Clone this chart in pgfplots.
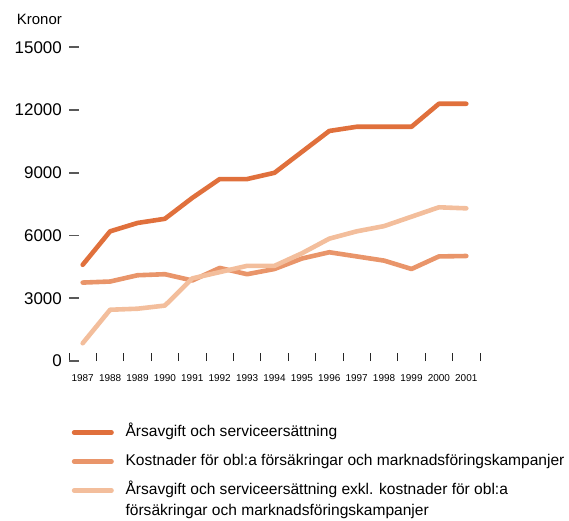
\documentclass[border=0pt]{standalone}
\usepackage{pgfplots}
\pgfplotsset{compat=1.18}
\usepackage{fontspec}
\setmainfont{Liberation Sans}
\definecolor{c1}{HTML}{E0703C}
\definecolor{c2}{HTML}{E9956A}
\definecolor{c3}{HTML}{F3BE9C}
\begin{document}
\begin{tikzpicture}
\useasboundingbox (0,0) rectangle (569bp,521bp);
\node[anchor=east, inner sep=0pt, font=\fontsize{15}{18}\selectfont] at (62bp,501.5bp) {Kronor};
\begin{axis}[
  at={(69bp,160bp)}, anchor=south west, scale only axis,
  width=411bp, height=313.7bp,
  xmin=1986.5, xmax=2001.5, ymin=0, ymax=15000, clip=false,
  axis line style={draw=none},
  scaled ticks=false,
  xtick={1987,...,2001},
  minor xtick={1986.5,1987.5,...,2001.5},
  ytick={0,3000,...,15000},
  xtick pos=bottom, ytick pos=left, tick align=inside,
  major tick length=10bp, minor tick length=8bp,
  every major x tick/.append style={draw=none},
  every minor x tick/.append style={black!85, line width=0.8bp},
  ytick style={black!65, line width=1.6bp},
  /pgf/number format/1000 sep={},
  /pgf/number format/assume math mode=true,
  yticklabel style={font=\fontsize{17}{20}\selectfont, inner sep=0pt, xshift=-7bp,
    /pgf/number format/fixed, /pgf/number format/precision=0},
  xticklabel style={font=\fontsize{10}{12}\selectfont, inner sep=0pt, yshift=-13bp},
  legend style={at={(0.0068,-0.204)}, anchor=north west, draw=none, fill=none,
    inner sep=0pt, outer sep=0pt, row sep=13bp, column sep=11.8bp,
    cells={anchor=base west},
    nodes={inner sep=0pt, text height=12bp, text depth=4bp, font=\fontsize{15.6}{21}\selectfont}},
  legend image code/.code={\draw[#1, line cap=round] (0bp,4.5bp) -- (37.4bp,4.5bp);},
  every axis plot/.append style={line width=4.6bp, line join=round, line cap=round},
]
\addplot[c1] coordinates {
(1987,4600) (1988,6200) (1989,6600) (1990,6800) (1991,7800) (1992,8700) (1993,8700)
(1994,9000) (1995,10000) (1996,11000) (1997,11200) (1998,11200) (1999,11200) (2000,12300) (2001,12300)};
\addlegendentry{Årsavgift och serviceersättning}
\addplot[c2] coordinates {
(1987,3750) (1988,3800) (1989,4100) (1990,4150) (1991,3850) (1992,4450) (1993,4150)
(1994,4400) (1995,4900) (1996,5200) (1997,5000) (1998,4800) (1999,4400) (2000,5000) (2001,5020)};
\addlegendentry{Kostnader för obl:a försäkringar och marknadsföringskampanjer}
\addplot[c3] coordinates {
(1987,850) (1988,2450) (1989,2500) (1990,2650) (1991,3950) (1992,4250) (1993,4550)
(1994,4550) (1995,5150) (1996,5850) (1997,6200) (1998,6450) (1999,6900) (2000,7350) (2001,7300)};
\addlegendentry{{\begin{tabular}[t]{@{}l@{}}Årsavgift och serviceersättning exkl. kostnader för obl:a\\försäkringar och marknadsföringskampanjer\end{tabular}}}
\end{axis}
\end{tikzpicture}
\end{document}
